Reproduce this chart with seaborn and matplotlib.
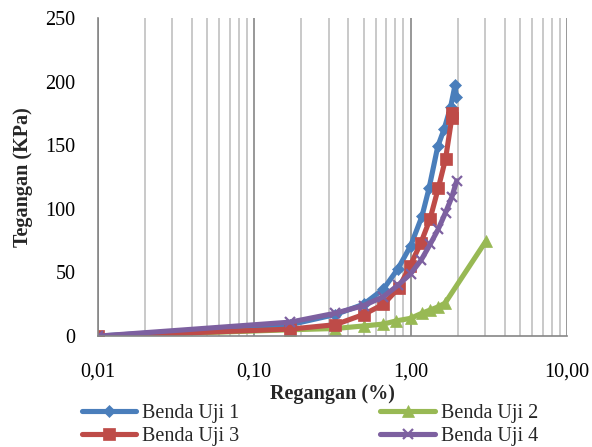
import matplotlib
matplotlib.use("Agg")
import matplotlib.pyplot as plt
import seaborn as sns
import pandas as pd
import numpy as np
from matplotlib.ticker import FixedLocator, LogLocator, NullFormatter

sns.set_theme(style="white")
plt.rcParams['font.family'] = ['Liberation Serif', 'DejaVu Serif']

series_names = ["Benda Uji 1", "Benda Uji 2", "Benda Uji 3", "Benda Uji 4"]

x_uji1 = [0.01, 0.17, 0.33, 0.50, 0.67, 0.83, 1.00, 1.18, 1.31, 1.49, 1.64, 1.80, 1.92, 1.96]
y_uji1 = [0, 9, 17, 25, 37, 53, 71, 94, 116, 149, 163, 180, 197, 188]

x_uji2 = [0.01, 0.17, 0.33, 0.50, 0.67, 0.81, 1.00, 1.18, 1.33, 1.50, 1.66, 3.04]
y_uji2 = [0, 5, 6, 8, 9.5, 12, 14, 18, 20.5, 23, 26, 75]

x_uji3 = [0.01, 0.17, 0.33, 0.50, 0.67, 0.84, 0.99, 1.16, 1.33, 1.50, 1.67, 1.83, 1.84]
y_uji3 = [0, 5.5, 9, 17, 25, 38, 55, 73, 92, 116, 139, 171, 175]

x_uji4 = [0.01, 0.17, 0.33, 0.50, 0.67, 0.83, 1.00, 1.17, 1.33, 1.50, 1.67, 1.83, 1.97]
y_uji4 = [0, 11, 18, 24, 31, 40, 49, 60, 72, 84, 97, 109, 122]

x_ticks = [0.01, 0.1, 1, 10]
x_ticklabels = ["0,01", "0,10", "1,00", "10,00"]
y_ticks = [0, 50, 100, 150, 200, 250]

colors = ["#4a7ebb", "#98b954", "#be4b48", "#7d60a0"]
markers = ["D", "^", "s", "x"]
msizes = [6.5, 8.5, 8, 7.5]

FS = 14.5

fig = plt.figure(figsize=(5.92, 4.47), dpi=100)
ax = fig.add_axes([0.165, 0.248, 0.793, 0.712])

data = [(x_uji1, y_uji1), (x_uji2, y_uji2), (x_uji3, y_uji3), (x_uji4, y_uji4)]
for i in range(4):
    xs, ys = data[i]
    df = pd.DataFrame({"x": xs, "y": ys})
    sns.lineplot(data=df, x="x", y="y", sort=False, estimator=None, ax=ax,
                 color=colors[i], linewidth=3.7, marker=markers[i],
                 markersize=msizes[i], markeredgecolor=colors[i],
                 markeredgewidth=1.6 if markers[i] == "x" else 0.5,
                 label=series_names[i])

ax.set_xscale("log")
ax.set_xlim(0.01, 10)
ax.set_ylim(0, 250)
ax.xaxis.set_major_locator(FixedLocator(x_ticks))
ax.set_xticklabels(x_ticklabels)
ax.xaxis.set_minor_locator(LogLocator(base=10, subs=np.arange(2, 10)))
ax.xaxis.set_minor_formatter(NullFormatter())
ax.set_yticks(y_ticks)

ax.grid(False)
ax.grid(True, axis="x", which="major", color="#868686", linewidth=1.2)
ax.grid(True, axis="x", which="minor", color="#c0c0c0", linewidth=1.2)
ax.set_axisbelow(True)

for s in ["top", "right"]:
    ax.spines[s].set_visible(False)
for s in ["left", "bottom"]:
    ax.spines[s].set_color("#868686")
    ax.spines[s].set_linewidth(1.2)

ax.tick_params(axis="both", which="both", length=0, labelsize=FS, colors="black")
ax.tick_params(axis="x", pad=19)
ax.tick_params(axis="y", pad=16)

ax.set_xlabel("Regangan (%)", fontsize=FS, fontweight="bold", labelpad=2)
ax.set_ylabel("Tegangan (KPa)", fontsize=FS, fontweight="bold", labelpad=9)

if ax.get_legend():
    ax.get_legend().remove()
h, l = ax.get_legend_handles_labels()
hd = dict(zip(l, h))
ordered = ["Benda Uji 1", "Benda Uji 3", "Benda Uji 2", "Benda Uji 4"]
fig.legend([hd[n] for n in ordered], ordered, ncol=2, loc="upper left",
           bbox_to_anchor=(0.138, 0.097), frameon=False, fontsize=FS,
           handlelength=2.7, handletextpad=0.3, columnspacing=7.0,
           labelspacing=0.22, borderaxespad=0, borderpad=0)

fig.savefig("out.png", dpi=100)
